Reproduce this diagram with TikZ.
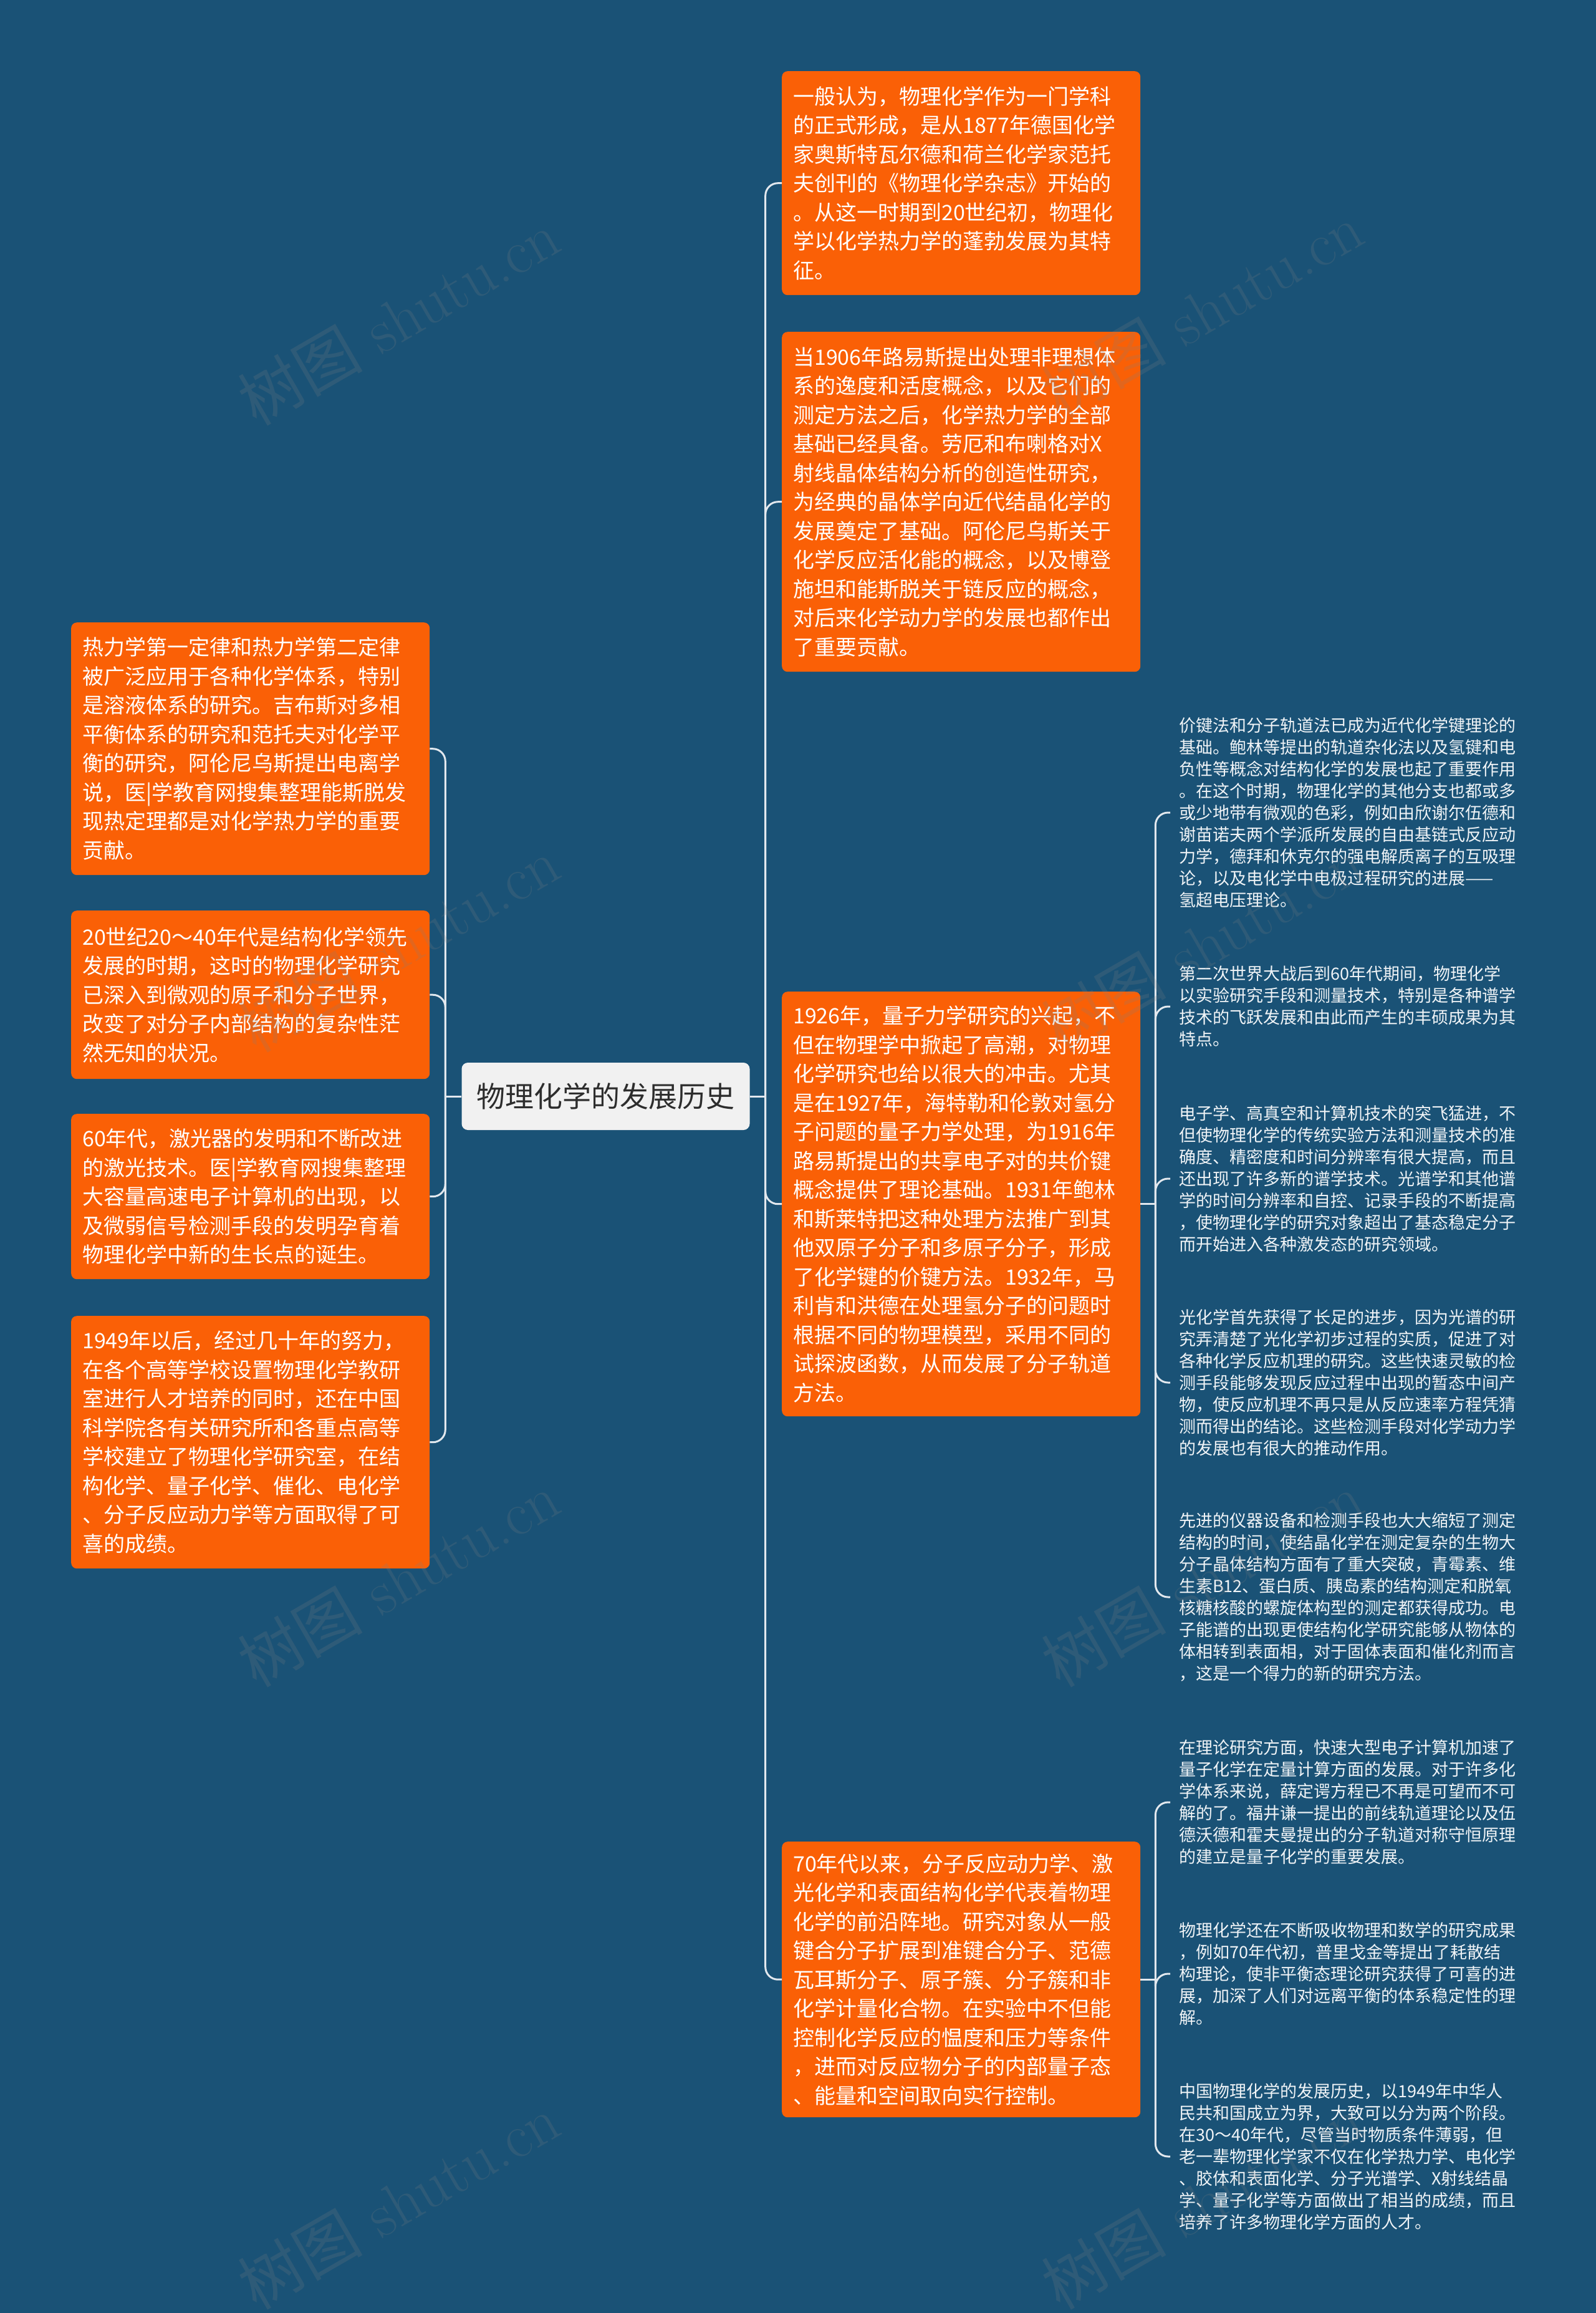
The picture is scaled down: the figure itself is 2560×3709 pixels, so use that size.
\documentclass[tikz,border=0pt]{standalone}
\usepackage{fontspec}
\newfontfamily\cjk{Noto Sans CJK SC}
\definecolor{bg}{RGB}{26,82,118}
\definecolor{org}{RGB}{250,96,6}
\definecolor{lnc}{RGB}{226,232,238}
\definecolor{cfill}{RGB}{241,241,241}
\definecolor{ctext}{RGB}{45,45,45}
\definecolor{stext}{RGB}{240,244,247}
\begin{document}
\begin{tikzpicture}[x=1bp,y=-1bp,
  obox/.style={fill=org, rounded corners=9bp, text=white,
    font=\cjk\fontsize{34bp}{46.5bp}\selectfont, align=left,
    text width=539bp, inner xsep=18bp, inner ysep=0bp,
    minimum width=575bp, anchor=north west},
  sbox/.style={text=stext, font=\cjk\fontsize{27bp}{35bp}\selectfont,
    align=left, inner xsep=14bp, inner ysep=4bp, anchor=west},
  cnode/.style={fill=cfill, rounded corners=10bp, text=ctext,
    font=\cjk\fontsize{46bp}{50bp}\selectfont,
    minimum width=462bp, minimum height=108bp, inner sep=0bp},
  conn/.style={draw=lnc, line width=3bp},
  branchline/.style={conn, rounded corners=20bp},
  wm/.style={text=gray, opacity=0.2, font=\fontsize{100bp}{100bp}\selectfont, rotate=30}
]
\useasboundingbox (0,0) rectangle (2560,3709);
\fill[bg] (0,0) rectangle (2560,3709);

% central node
\node[cnode] (ctr) at (971.5,1758) {物理化学的发展历史};

% right orange boxes
\node[obox, minimum height=359bp] (A) at (1254,114) {一般认为，物理化学作为一门学科\\的正式形成，是从1877年德国化学\\家奥斯特瓦尔德和荷兰化学家范托\\夫创刊的《物理化学杂志》开始的\\。从这一时期到20世纪初，物理化\\学以化学热力学的蓬勃发展为其特\\征。};
\node[obox, minimum height=545bp] (B) at (1254,532) {当1906年路易斯提出处理非理想体\\系的逸度和活度概念，以及它们的\\测定方法之后，化学热力学的全部\\基础已经具备。劳厄和布喇格对X\\射线晶体结构分析的创造性研究，\\为经典的晶体学向近代结晶化学的\\发展奠定了基础。阿伦尼乌斯关于\\化学反应活化能的概念，以及博登\\施坦和能斯脱关于链反应的概念，\\对后来化学动力学的发展也都作出\\了重要贡献。};
\node[obox, minimum height=681bp] (C) at (1254,1590) {1926年，量子力学研究的兴起，不\\但在物理学中掀起了高潮，对物理\\化学研究也给以很大的冲击。尤其\\是在1927年，海特勒和伦敦对氢分\\子问题的量子力学处理，为1916年\\路易斯提出的共享电子对的共价键\\概念提供了理论基础。1931年鲍林\\和斯莱特把这种处理方法推广到其\\他双原子分子和多原子分子，形成\\了化学键的价键方法。1932年，马\\利肯和洪德在处理氢分子的问题时\\根据不同的物理模型，采用不同的\\试探波函数，从而发展了分子轨道\\方法。};
\node[obox, minimum height=442bp] (D) at (1254,2953) {70年代以来，分子反应动力学、激\\光化学和表面结构化学代表着物理\\化学的前沿阵地。研究对象从一般\\键合分子扩展到准键合分子、范德\\瓦耳斯分子、原子簇、分子簇和非\\化学计量化合物。在实验中不但能\\控制化学反应的愠度和压力等条件\\，进而对反应物分子的内部量子态\\、能量和空间取向实行控制。};

% left orange boxes
\node[obox, minimum height=405bp] (L1) at (114,998) {热力学第一定律和热力学第二定律\\被广泛应用于各种化学体系，特别\\是溶液体系的研究。吉布斯对多相\\平衡体系的研究和范托夫对化学平\\衡的研究，阿伦尼乌斯提出电离学\\说，医|学教育网搜集整理能斯脱发\\现热定理都是对化学热力学的重要\\贡献。};
\node[obox, minimum height=270bp] (L2) at (114,1460) {20世纪20～40年代是结构化学领先\\发展的时期，这时的物理化学研究\\已深入到微观的原子和分子世界，\\改变了对分子内部结构的复杂性茫\\然无知的状况。};
\node[obox, minimum height=265bp] (L3) at (114,1786) {60年代，激光器的发明和不断改进\\的激光技术。医|学教育网搜集整理\\大容量高速电子计算机的出现，以\\及微弱信号检测手段的发明孕育着\\物理化学中新的生长点的诞生。};
\node[obox, minimum height=405bp] (L4) at (114,2110) {1949年以后，经过几十年的努力，\\在各个高等学校设置物理化学教研\\室进行人才培养的同时，还在中国\\科学院各有关研究所和各重点高等\\学校建立了物理化学研究室，在结\\构化学、量子化学、催化、电化学\\、分子反应动力学等方面取得了可\\喜的成绩。};

% small texts on the right
\node[sbox] (S1) at (1877,1303) {价键法和分子轨道法已成为近代化学键理论的\\基础。鲍林等提出的轨道杂化法以及氢键和电\\负性等概念对结构化学的发展也起了重要作用\\。在这个时期，物理化学的其他分支也都或多\\或少地带有微观的色彩，例如由欣谢尔伍德和\\谢苗诺夫两个学派所发展的自由基链式反应动\\力学，德拜和休克尔的强电解质离子的互吸理\\论，以及电化学中电极过程研究的进展——\\氢超电压理论。};
\node[sbox] (S2) at (1877,1614) {第二次世界大战后到60年代期间，物理化学\\以实验研究手段和测量技术，特别是各种谱学\\技术的飞跃发展和由此而产生的丰硕成果为其\\特点。};
\node[sbox] (S3) at (1877,1890) {电子学、高真空和计算机技术的突飞猛进，不\\但使物理化学的传统实验方法和测量技术的准\\确度、精密度和时间分辨率有很大提高，而且\\还出现了许多新的谱学技术。光谱学和其他谱\\学的时间分辨率和自控、记录手段的不断提高\\，使物理化学的研究对象超出了基态稳定分子\\而开始进入各种激发态的研究领域。};
\node[sbox] (S4) at (1877,2217) {光化学首先获得了长足的进步，因为光谱的研\\究弄清楚了光化学初步过程的实质，促进了对\\各种化学反应机理的研究。这些快速灵敏的检\\测手段能够发现反应过程中出现的暂态中间产\\物，使反应机理不再只是从反应速率方程凭猜\\测而得出的结论。这些检测手段对化学动力学\\的发展也有很大的推动作用。};
\node[sbox] (S5) at (1877,2561) {先进的仪器设备和检测手段也大大缩短了测定\\结构的时间，使结晶化学在测定复杂的生物大\\分子晶体结构方面有了重大突破，青霉素、维\\生素B12、蛋白质、胰岛素的结构测定和脱氧\\核糖核酸的螺旋体构型的测定都获得成功。电\\子能谱的出现更使结构化学研究能够从物体的\\体相转到表面相，对于固体表面和催化剂而言\\，这是一个得力的新的研究方法。};
\node[sbox] (S6) at (1877,2890) {在理论研究方面，快速大型电子计算机加速了\\量子化学在定量计算方面的发展。对于许多化\\学体系来说，薛定谔方程已不再是可望而不可\\解的了。福井谦一提出的前线轨道理论以及伍\\德沃德和霍夫曼提出的分子轨道对称守恒原理\\的建立是量子化学的重要发展。};
\node[sbox] (S7) at (1877,3165) {物理化学还在不断吸收物理和数学的研究成果\\，例如70年代初，普里戈金等提出了耗散结\\构理论，使非平衡态理论研究获得了可喜的进\\展，加深了人们对远离平衡的体系稳定性的理\\解。};
\node[sbox] (S8) at (1877,3458) {中国物理化学的发展历史，以1949年中华人\\民共和国成立为界，大致可以分为两个阶段。\\在30～40年代，尽管当时物质条件薄弱，但\\老一辈物理化学家不仅在化学热力学、电化学\\、胶体和表面化学、分子光谱学、X射线结晶\\学、量子化学等方面做出了相当的成绩，而且\\培养了许多物理化学方面的人才。};

% spines
\coordinate (rsp) at ([xshift=25bp]ctr.east);
\coordinate (lsp) at ([xshift=-26bp]ctr.west);
\coordinate (csp) at ([xshift=24bp]C.east);
\coordinate (dsp) at ([xshift=24bp]D.east);

\draw[conn] (ctr.east) -- (rsp);
\draw[conn] (ctr.west) -- (lsp);
\foreach \n in {A,B,C,D} \draw[branchline] (rsp) |- (\n.west);
\foreach \n in {L1,L2,L3,L4} \draw[branchline] (lsp) |- (\n.east);
\draw[conn] (C.east) -- (csp);
\foreach \n in {S1,S2,S3,S4,S5} \draw[branchline] (csp) |- (\n.west);
\draw[conn] (D.east) -- (dsp);
\foreach \n in {S6,S7,S8} \draw[branchline] (dsp) |- (\n.west);

% watermarks
\foreach \wx/\wy/\k in {639/509/1,1928/497/2,639/1514/3,1928/1514/4,639/2532/5,1928/2532/6,639/3530/7,1928/3530/8}
  \node[wm] (wm\k) at (\wx,\wy) {{\cjk 树图} shutu.cn};
\end{tikzpicture}
\end{document}
